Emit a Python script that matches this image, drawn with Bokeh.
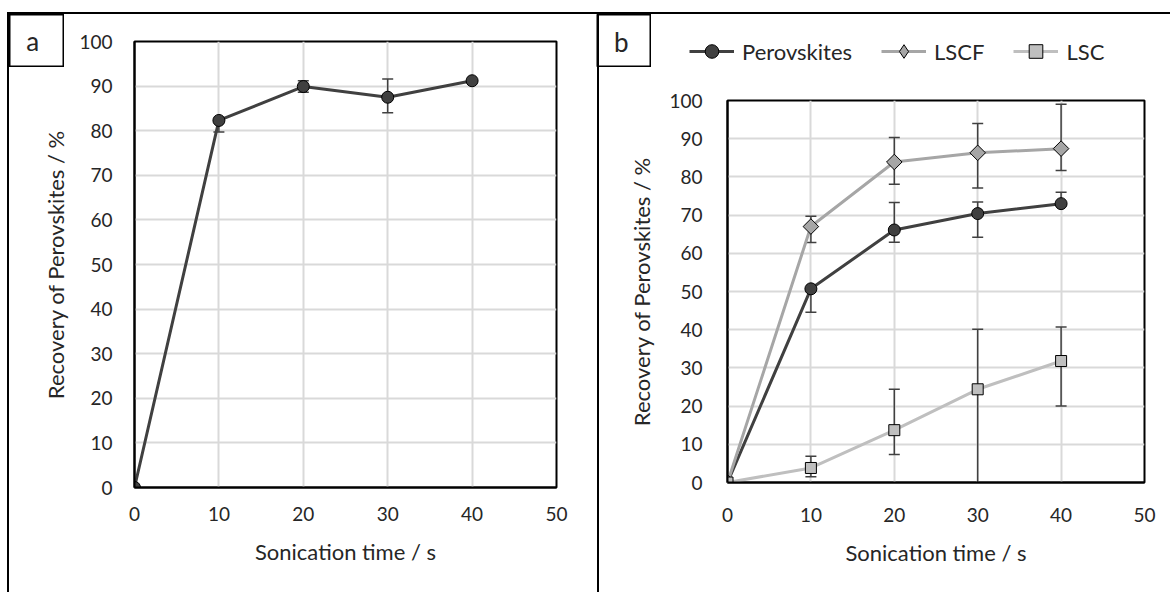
from bokeh.plotting import figure
from bokeh.layouts import row
from bokeh.models import Range1d, FixedTicker, Legend, LegendItem, Label
from bokeh.embed import file_html
from bokeh.resources import INLINE
import math

# ---------------- data ----------------
x_ticks = [0, 10, 20, 30, 40, 50]
y_ticks = [0, 10, 20, 30, 40, 50, 60, 70, 80, 90, 100]

a_time = [0, 10, 20, 30, 40]
a_rec = [0, 82.3, 89.9, 87.5, 91.2]
a_err_up = [0, 0, 1.3, 4.1, 0]
a_err_dn = [0, 2.6, 1.3, 3.5, 0]

b_time = [0, 10, 20, 30, 40]
perov = [0, 50.7, 66.1, 70.4, 73.0]
perov_up = [0, 0, 7.2, 3.0, 3.0]
perov_dn = [0, 6.1, 3.2, 6.2, 0]
lscf = [0, 67.0, 83.9, 86.3, 87.4]
lscf_up = [0, 2.7, 6.4, 7.7, 11.6]
lscf_dn = [0, 4.2, 5.8, 9.2, 5.7]
lsc = [0, 3.8, 13.7, 24.4, 31.8]
lsc_up = [0, 3.1, 10.7, 15.7, 8.9]
lsc_dn = [0, 2.3, 6.4, 30.0, 11.8]

x_title = "Sonication time / s"
y_title = "Recovery of Perovskites / %"
series_names = ["Perovskites", "LSCF", "LSC"]
panel_letters = ["a", "b"]

FONT = "Lato"
TXT = "#262626"
DARK = "#404040"
MID = "#a6a6a6"
LIGHT = "#bfbfbf"
ERR = "#404040"

SERIES_STYLE = [
    dict(line=DARK, marker="circle", angle=0.0, size=12, fill=DARK),
    dict(line=MID, marker="square", angle=math.pi / 4, size=11, fill=MID),
    dict(line=LIGHT, marker="square", angle=0.0, size=11, fill=LIGHT),
]
# the legend cannot rotate a square, so it uses Bokeh's diamond for LSCF
LEGEND_MARKERS = ["circle", "diamond", "square"]


def no_align(p):
    if "frame_align" in p.properties():
        p.frame_align = False


def style(p, ylab_standoff, xlab_standoff, ytitle_standoff, xtitle_standoff):
    p.x_range = Range1d(0, 50)
    p.y_range = Range1d(0, 100)
    p.xaxis.ticker = FixedTicker(ticks=x_ticks)
    p.yaxis.ticker = FixedTicker(ticks=y_ticks)
    for ax in (p.xaxis[0], p.yaxis[0]):
        ax.major_tick_line_color = None
        ax.minor_tick_line_color = None
        ax.major_tick_out = 0
        ax.major_tick_in = 0
        ax.axis_line_color = "black"
        ax.axis_line_width = 2
        ax.major_label_text_font = FONT
        ax.major_label_text_font_size = "19px"
        ax.major_label_text_color = TXT
        ax.axis_label_text_font = FONT
        ax.axis_label_text_font_size = "22px"
        ax.axis_label_text_font_style = "normal"
        ax.axis_label_text_color = TXT
    p.yaxis[0].major_label_standoff = ylab_standoff
    p.xaxis[0].major_label_standoff = xlab_standoff
    p.yaxis[0].axis_label_standoff = ytitle_standoff
    p.xaxis[0].axis_label_standoff = xtitle_standoff
    p.xaxis[0].axis_label = x_title
    p.yaxis[0].axis_label = y_title
    p.xgrid.ticker = FixedTicker(ticks=x_ticks)
    p.ygrid.ticker = FixedTicker(ticks=y_ticks)
    p.grid.grid_line_color = "#d9d9d9"
    p.grid.grid_line_width = 2
    p.outline_line_color = "black"
    p.outline_line_width = 2
    p.background_fill_color = "white"
    p.border_fill_color = None
    no_align(p)
    p.styles = {"outline": "2px solid black"}


def errbars(p, xs, ys, up, dn):
    hi = [y + u for y, u in zip(ys, up)]
    lo = [y - d for y, d in zip(ys, dn)]
    p.segment(x0=xs, y0=lo, x1=xs, y1=hi, line_color=ERR, line_width=1.5)
    p.scatter(x=xs, y=hi, marker="dash", size=11, line_color=ERR, line_width=1.5)
    p.scatter(x=xs, y=lo, marker="dash", size=11, line_color=ERR, line_width=1.5)


def series(p, xs, ys, st, marker=None):
    l = p.line(xs, ys, line_color=st["line"], line_width=3)
    m = p.scatter(xs, ys, marker=marker or st["marker"], angle=st["angle"], size=st["size"],
                  fill_color=st["fill"], line_color="black", line_width=1)
    return l, m


def letter_box(letter, w, h, margin, tx, ty):
    b = figure(width=w, height=h, output_backend="svg", toolbar_location=None,
               x_axis_location=None, y_axis_location=None,
               min_border_left=1, min_border_right=1, min_border_top=1, min_border_bottom=1,
               x_range=Range1d(0, 1), y_range=Range1d(0, 1), margin=margin)
    b.grid.visible = False
    b.outline_line_color = "black"
    b.outline_line_width = 2
    b.background_fill_color = None
    b.border_fill_color = None
    no_align(b)
    b.add_layout(Label(x=tx, y=ty, text=letter, text_align="center", text_baseline="middle",
                       text_font=FONT, text_font_size="26px", text_color=TXT))
    return b


# ---------------- panel a ----------------
box_a = letter_box(panel_letters[0], 56, 54, (13, 0, 0, 8), 0.43, 0.5)

pa = figure(width=588, height=578, output_backend="svg", toolbar_location=None,
            min_border_left=125, min_border_right=41, min_border_top=27, min_border_bottom=105,
            margin=(14, 0, 0, -55))
style(pa, 22, 19, 7, 14)
errbars(pa, a_time, a_rec, a_err_up, a_err_dn)
series(pa, a_time, a_rec, SERIES_STYLE[0])

# ---------------- panel b ----------------
box_b = letter_box(panel_letters[1], 55, 54, (13, 0, 0, -1), 0.45, 0.47)

# legend strip: its own small figure (so it is not clipped by panel b's frame).
# The series are plotted there too, but its ranges keep them out of view.
lf = figure(width=440, height=40, output_backend="svg", toolbar_location=None,
            x_axis_location=None, y_axis_location=None,
            min_border_left=0, min_border_right=0, min_border_top=0, min_border_bottom=0,
            x_range=Range1d(1000, 1001), y_range=Range1d(1000, 1001), margin=(31, 0, 0, 38))
lf.grid.visible = False
lf.outline_line_color = None
lf.background_fill_color = None
lf.border_fill_color = None
no_align(lf)
items = []
for name, ys, st, mk in zip(series_names, [perov, lscf, lsc], SERIES_STYLE, LEGEND_MARKERS):
    l, m = series(lf, b_time, ys, st, marker=mk)
    items.append(LegendItem(label=name, renderers=[l, m]))
legend = Legend(items=items, orientation="horizontal", location="left",
                glyph_width=45, glyph_height=34, label_standoff=8, spacing=29,
                padding=0, margin=0, border_line_color=None, background_fill_alpha=0,
                label_text_font=FONT, label_text_font_size="22px", label_text_color=TXT)
lf.add_layout(legend, "center")

pb = figure(width=571, height=578, output_backend="svg", toolbar_location=None,
            min_border_left=128, min_border_right=26, min_border_top=86, min_border_bottom=110,
            margin=(14, 0, 0, -530))
style(pb, 25, 25, 11, 14)
errbars(pb, b_time, perov, perov_up, perov_dn)
errbars(pb, b_time, lscf, lscf_up, lscf_dn)
errbars(pb, b_time, lsc, lsc_up, lsc_dn)
for ys, st in zip([perov, lscf, lsc], SERIES_STYLE):
    series(pb, b_time, ys, st)

layout = row(box_a, pa, box_b, lf, pb, spacing=0)
open("out.html", "w").write(file_html(layout, INLINE))
